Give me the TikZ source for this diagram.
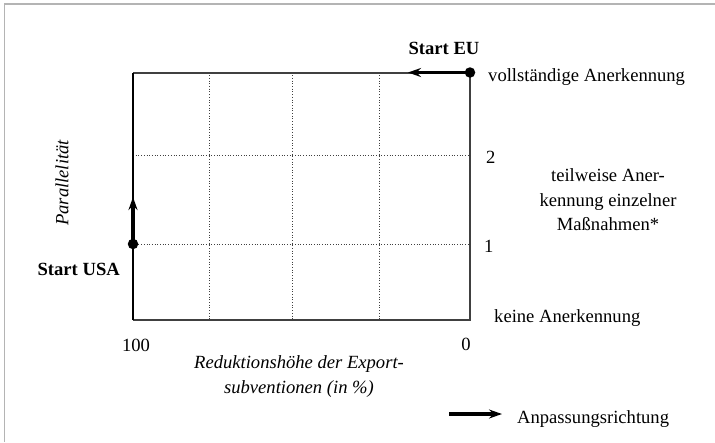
\documentclass[tikz,border=0pt]{standalone}
\usepackage{fontspec}
\setmainfont{Liberation Serif}
\usetikzlibrary{arrows.meta,positioning}
\definecolor{framegray}{HTML}{B4B4B4}
\definecolor{boxgray}{HTML}{404040}
\tikzset{
  frameline/.style={draw=framegray,line width=1.6pt},
  boxline/.style={draw=boxgray,line width=2pt},
  gridline/.style={draw=black!75,dotted,line width=.7pt},
  move/.style={-{Stealth[length=13pt,width=9pt]},line width=3.2pt},
  startdot/.style={circle,fill=black,inner sep=0pt,minimum size=10.5pt},
  lbl/.style={inner sep=0pt,font=\fontsize{18.6}{24.5}\selectfont},
}

\begin{document}
\begin{tikzpicture}[x=1pt,y=-1pt]
    \useasboundingbox (0,0) rectangle (715,442);
    \draw[frameline] (4.5,442) -- (4.5,4) -- (715,4);
    % corners of the diagram
    \coordinate (nw) at (133,72.5);
    \coordinate (ne) at (470,72.5);
    \coordinate (sw) at (133,319.5);
    \coordinate (se) at (470,319.5);
    \coordinate (lvl2w) at (133,155.5);
    \coordinate (lvl2e) at (470,155.5);
    \coordinate (lvl1w) at (133,244);
    \coordinate (lvl1e) at (470,244);
    \foreach \gx in {209,292,379}
      \draw[gridline] (\gx,72.5) -- (\gx,319.5);
    \draw[gridline] (lvl2w) -- (lvl2e);
    \draw[gridline] (lvl1w) -- (lvl1e);
    \draw[boxline] (nw) -- (ne) -- (se) -- (sw);
    \draw[line width=1.3pt] (nw) -- (sw);
    % starting points
    \node[startdot] (eu) at (ne) {};
    \node[startdot] (usa) at (lvl1w) {};
    \coordinate (euend) at (408,72.5);
    \coordinate (usaend) at (133,197);
    \draw[move] (ne) -- (euend);
    \draw[move] (lvl1w) -- (usaend);
    \node[lbl,anchor=base,font=\fontsize{18.6}{24.5}\selectfont\bfseries] (starteu) at (444,54) {Start EU};
    \node[lbl,anchor=base east,font=\fontsize{18.6}{24.5}\selectfont\bfseries] (startusa) at (120,275) {Start USA};
    % levels of recognition
    \node[lbl,anchor=base west] (voll) at (488,81) {vollständige Anerkennung};
    \node[lbl,anchor=base west] (two) at (486,163) {2};
    \node[lbl,align=center] (teil) at (608,200) {teilweise Aner-\\kennung einzelner\\Maßnahmen*};
    \node[lbl,anchor=base west] (one) at (484,252) {1};
    \node[lbl,anchor=base west] (keine) at (494,322) {keine Anerkennung};
    % axes
    \node[lbl,anchor=base] (hundert) at (136,351) {100};
    \node[lbl,anchor=base] (null) at (466,350) {0};
    \node[lbl,align=center,font=\fontsize{18.6}{25}\selectfont\itshape] (xlab) at (299,377) {Reduktionshöhe der Export-\\subventionen (in \%)};
    \node[lbl,rotate=90,font=\fontsize{18.6}{24.5}\selectfont\itshape] (ylab) at (62,183) {Parallelität};
    % legend
    \coordinate (legfrom) at (449,414);
    \node[lbl,anchor=base west] (legtext) at (517,423) {Anpassungsrichtung};
    \draw[move] (legfrom) -- (502,414);
\end{tikzpicture}
\end{document}
